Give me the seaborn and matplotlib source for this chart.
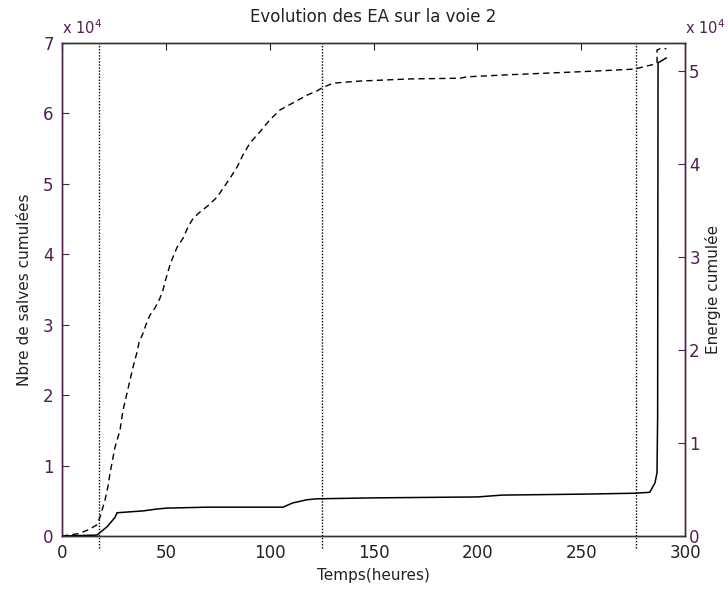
import matplotlib
matplotlib.use("Agg")
import matplotlib.pyplot as plt
from matplotlib.ticker import FuncFormatter
import seaborn as sns

# cumulative hits (left axis), hours
salves_t = [0, 7.2, 8.7, 13.5, 16.8, 18.3, 19.3, 20.7, 22.1, 23.1, 25.5, 27.9, 29.4, 31.3,
            32.7, 34.2, 36.1, 37.1, 39, 40.4, 42.4, 44.8, 47.2, 48.6, 49.6, 52, 53.4, 55.4,
            58.3, 60.7, 63.1, 66.4, 70.3, 74.6, 80.9, 84.3, 87.1, 90.5, 95.3, 100.1, 105,
            111.2, 118, 122.8, 125, 130.5, 143.5, 167.5, 191.6, 195, 215.7, 231.6, 255.7,
            275.9, 279.7, 284, 286.5, 286.5, 288, 291]
salves_v = [0, 300, 400, 1000, 1600, 2700, 3700, 5100, 7000, 8900, 12600, 15000, 17900,
            20300, 22100, 24000, 26100, 27500, 28800, 30000, 31400, 32400, 33800, 34900,
            36100, 38500, 39600, 41000, 42300, 43900, 45100, 46000, 46900, 48100, 50800,
            52400, 54100, 55800, 57400, 59100, 60500, 61500, 62600, 63200, 63600, 64300,
            64600, 64900, 65000, 65200, 65500, 65700, 66000, 66300, 66600, 66900, 67200,
            69000, 69200, 69200]

# cumulative energy (right axis)
energie_t = [0, 16.8, 21.7, 25.5, 26.5, 32.7, 39, 45.7, 50.5, 69.8, 106.4, 111, 118, 122.8,
             150, 200, 212, 250, 275.9, 283, 285.5, 286.5, 286.8, 287, 288, 291]
energie_v = [0, 100, 1000, 2000, 2500, 2600, 2700, 2900, 3000, 3100, 3100, 3550, 3900, 4000,
             4100, 4200, 4400, 4500, 4600, 4700, 5700, 6800, 12800, 50900, 51000, 51400]

phases = [17.8, 125.2, 276.4]

purple = "#4e1f50"

sns.set_style("white")
plt.rcParams["font.family"] = ["DejaVu Sans"]

fig = plt.figure(figsize=(7.28, 5.9), dpi=100)
ax = fig.add_axes([0.0852, 0.0915, 0.8558, 0.8356])
ax2 = ax.twinx()

sns.lineplot(x=salves_t, y=salves_v, ax=ax, color="k", lw=1.0, sort=False,
             estimator=None, linestyle=(0, (4.5, 3)))
sns.lineplot(x=energie_t, y=energie_v, ax=ax2, color="k", lw=1.1, sort=False,
             estimator=None)

for p in phases:
    ax.axvline(p, ymin=-0.025, ymax=1, color="k", lw=1.0, ls=(0, (1, 1.2)), clip_on=False)

ax.set_xlim(0, 300)
ax.set_ylim(0, 70000)
ax2.set_ylim(0, 53000)
ax.set_xticks(range(0, 301, 50))
ax.set_yticks(range(0, 70001, 10000))
ax2.set_yticks(range(0, 50001, 10000))
fmt = FuncFormatter(lambda v, pos: "%d" % round(v / 1e4))
ax.yaxis.set_major_formatter(fmt)
ax2.yaxis.set_major_formatter(fmt)

ax.tick_params(axis="x", direction="in", top=True, length=5, labelsize=12, pad=6,
               colors="#222222")
ax.tick_params(axis="y", direction="in", length=5, labelsize=12, pad=6, colors=purple)
ax2.tick_params(axis="y", direction="in", length=5, labelsize=12, pad=3, colors=purple)

for a in (ax, ax2):
    for s in a.spines.values():
        s.set_linewidth(1.0)
        s.set_color("#333333")
ax2.spines["left"].set_color(purple)
ax2.spines["right"].set_color(purple)
ax.spines["left"].set_color(purple)

ax.set_xlabel("Temps(heures)", fontsize=11, color="#222222", labelpad=4)
ax.set_ylabel("Nbre de salves cumulées", fontsize=11, color="#222222", labelpad=8)
ax2.set_ylabel("Energie cumulée", fontsize=11, color="#222222", labelpad=4)
ax.set_title("Evolution des EA sur la voie 2", fontsize=12, color="#222222", pad=15)

ax.text(0.0, 1.012, r"x 10$^{4}$", transform=ax.transAxes, ha="left", va="bottom",
        fontsize=10.5, color=purple)
ax2.text(1.0, 1.012, r"x 10$^{4}$", transform=ax2.transAxes, ha="left", va="bottom",
         fontsize=10.5, color=purple)

fig.savefig("out.png", dpi=100)
